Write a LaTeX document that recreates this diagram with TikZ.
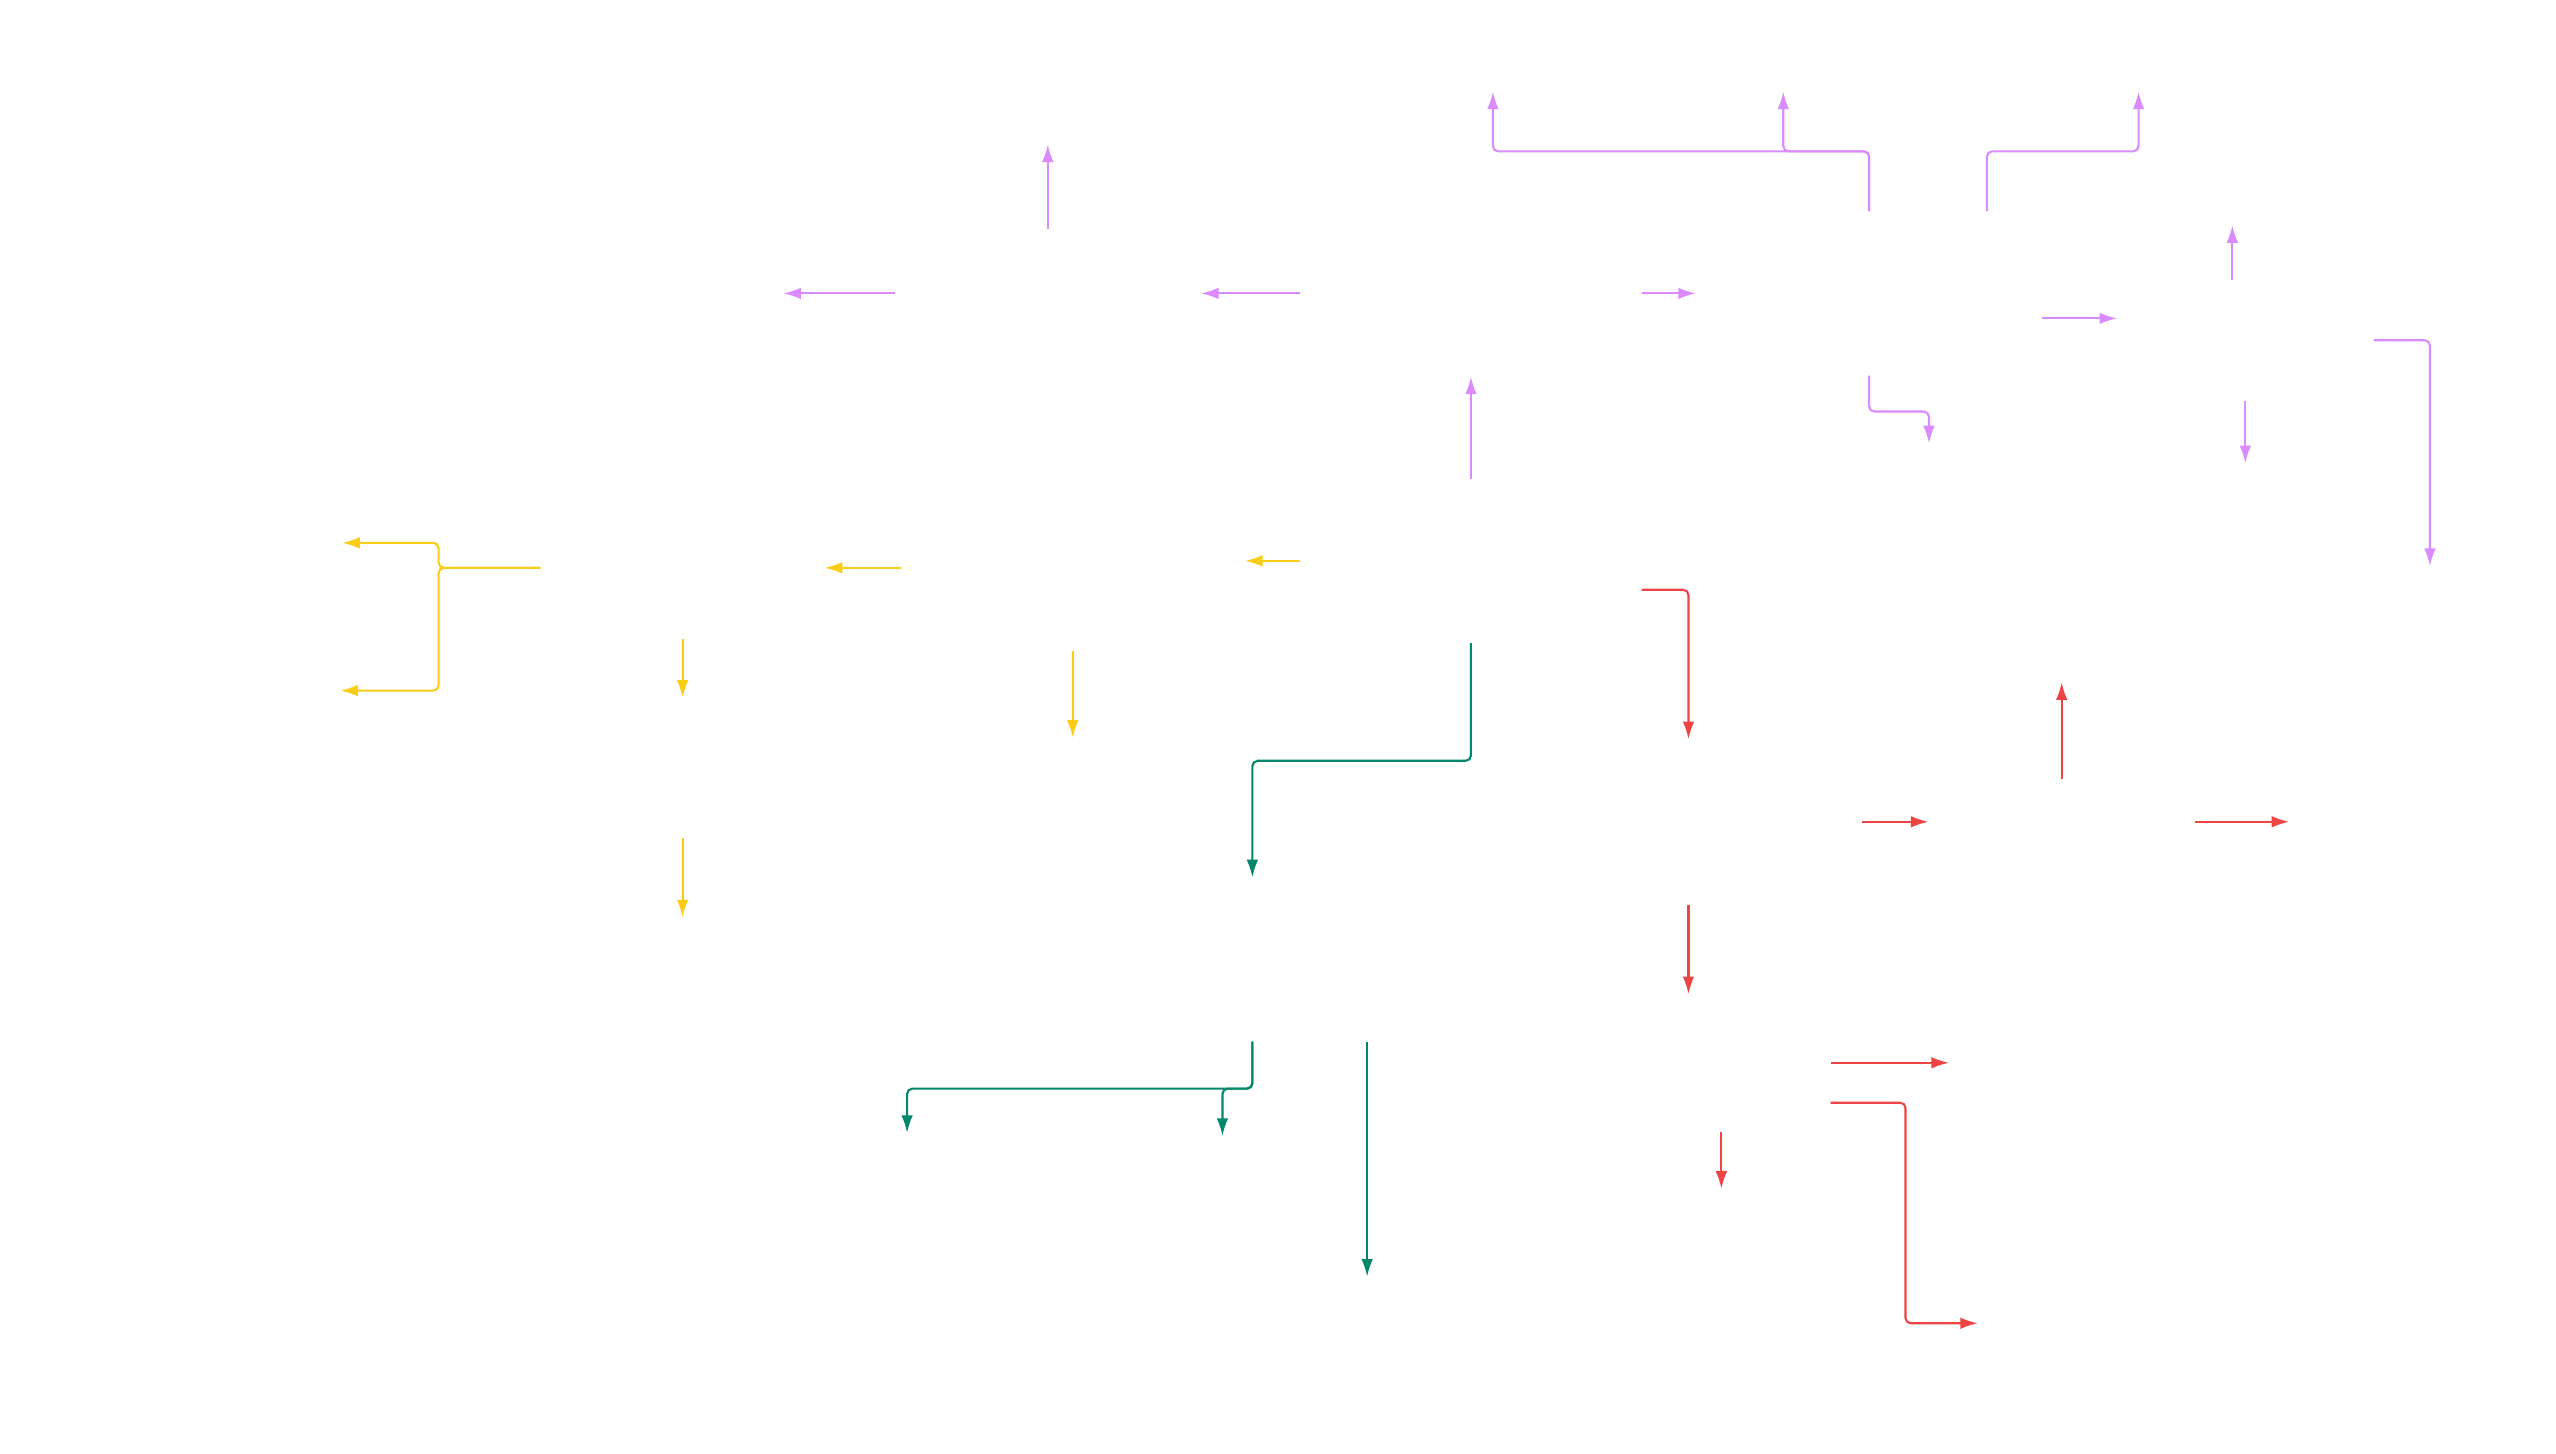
\documentclass[tikz,border=0pt]{standalone}
\usepackage{tikz}
\usetikzlibrary{arrows.meta,calc}
\definecolor{purp}{HTML}{DA8BFF}
\definecolor{yel}{HTML}{FACC15}
\definecolor{grn}{HTML}{00876C}
\definecolor{rd}{HTML}{EF4444}
\tikzset{
	box/.style 2 args={inner sep=0pt,minimum width=#1,minimum height=#2},
	leaf/.style={box={2.4cm}{0.6cm}},
	link/.style={line width=0.6pt,rounded corners=1.5pt,-{Latex[length=5pt,width=3.3pt]}},
	plink/.style={link,draw=purp},
	ylink/.style={link,draw=yel},
	glink/.style={link,draw=grn},
	rlink/.style={link,draw=rd}
}
\begin{document}
\begin{tikzpicture}[x=0.009985cm,y=-0.009985cm]
		\useasboundingbox (0cm,0cm) rectangle (25.56cm,-14.54cm);
		\node[box={3.4cm}{1.63cm}] (C) at (1474,562) {};
		\node[box={3.4cm}{1.65cm}] (P) at (1474,294) {};
		\node[box={3.05cm}{1.28cm}] (P1) at (1050,294) {};
		\node[leaf] (P2) at (664,294) {};
		\node[leaf] (P3) at (1050,114) {};
		\node[box={3.45cm}{1.63cm}] (P4) at (1873,294) {};
		\node[leaf] (P5) at (1496,61) {};
		\node[leaf] (P6) at (1787,61) {};
		\node[leaf] (P7) at (2143,61) {};
		\node[leaf] (P8) at (1933,475) {};
		\node[box={2.55cm}{1.2cm}] (P9) at (2250,341) {};
		\node[leaf] (P10) at (2237,195) {};
		\node[leaf] (P11) at (2250,495) {};
		\node[leaf] (P12) at (2435,598) {};
		\node[box={3.43cm}{1.64cm}] (Y) at (1075,569) {};
		\node[box={2.83cm}{1.4cm}] (Y1) at (684,569) {};
		\node[leaf] (Y2) at (222,544) {};
		\node[leaf] (Y3) at (220,692) {};
		\node[box={2cm}{1.39cm}] (Y4) at (684,769.5) {};
		\node[leaf] (Y5) at (684,950) {};
		\node[leaf] (Y6) at (1075,770) {};
		\node[box={3.4cm}{1.63cm}] (G1) at (1255,961.5) {};
		\node[leaf] (G2) at (909,1166) {};
		\node[leaf] (G3) at (1225,1169) {};
		\node[leaf] (G4) at (1370,1310) {};
		\node[box={3.45cm}{1.64cm}] (R1) at (1692,823.5) {};
		\node[box={2.65cm}{0.84cm}] (R2) at (2066,823.5) {};
		\node[leaf] (R3) at (2066,653) {};
		\node[leaf] (R4) at (2415,823.5) {};
		\node[box={2.83cm}{1.36cm}] (R5) at (1692,1065) {};
		\node[leaf] (R6) at (2074,1065) {};
		\node[leaf] (R7) at (2103,1326) {};
		\node[leaf] (R8) at (1725,1222) {};
		\draw[plink] (C.north) -- (P.south);
		\draw[plink] (P.west) -- (P1.east);
		\draw[plink] (P1.west) -- (P2.east);
		\draw[plink] (P1.north) -- (P3.south);
		\draw[plink] (P.east) -- (P4.west);
		\draw[plink] (P4.north) -- ++(0,-60) -| (P5.south);
		\draw[plink] (P4.north) -- ++(0,-60) -| (P6.south);
		\draw[plink] ($(P4.north)+(118,0)$) -- ++(0,-60) -| (P7.south);
		\draw[plink] (P4.south) -- ++(0,36) -| (P8.north);
		\draw[plink] ($(P4.east)+(0,25)$) coordinate (p49) -- (p49 -| P9.west);
		\draw[plink] (P9.north -| P10.south) -- (P10.south);
		\draw[plink] (P9.south -| P11.north) -- (P11.north);
		\draw[plink] (P9.east) -| (P12.north);
		\draw[ylink] (C.west) -- (C.west -| Y.east);
		\draw[ylink] (Y.west) -- (Y1.east);
		\draw[ylink] (Y1.west) -- ++(-102,0) |- (Y2.east);
		\draw[ylink] (Y1.west) -- ++(-102,0) |- (Y3.east);
		\draw[ylink] (Y1.south) -- (Y4.north);
		\draw[ylink] (Y4.south) -- (Y5.north);
		\draw[ylink] (Y.south) -- (Y6.north);
		\draw[glink] (C.south) -- ++(0,118) -| (G1.north);
		\draw[glink] (G1.south) -- ++(0,47) -| (G2.north);
		\draw[glink] (G1.south) -- ++(0,47) -| (G3.north);
		\draw[glink] (G1.south -| G4.north) -- (G4.north);
		\draw[rlink] ($(C.east)+(0,29)$) -| (R1.north);
		\draw[rlink] (R1.east) -- (R2.west);
		\draw[rlink] (R2.north) -- (R3.south);
		\draw[rlink] (R2.east) -- (R4.west);
		\draw[rlink] (R1.south) -- (R5.north);
		\draw[rlink] (R5.east) -- (R6.west);
		\draw[rlink] ($(R5.east)+(0,40)$) -- ++(75,0) |- (R7.west);
		\draw[rlink] (R5.south -| R8.north) -- (R8.north);
	\end{tikzpicture}
\end{document}
